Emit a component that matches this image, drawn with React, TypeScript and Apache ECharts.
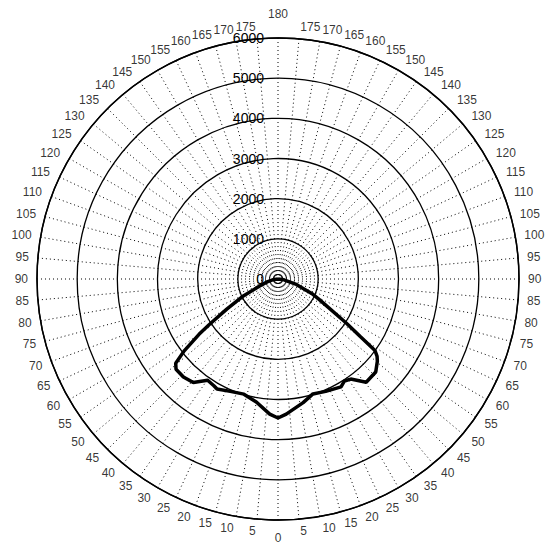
import React, { useEffect, useRef } from "react";
import * as echarts from "echarts";

// Radial ticks (intensity rings)
const radiusTicks = [0, 1000, 2000, 3000, 4000, 5000, 6000];
// Angle axis: -180..180 deg, 0 at bottom, labels shown as absolute values
const angleMin = -180;
const angleMax = 180;
const angleStep = 5;

// Curve: angle (deg) and radius values
const curveAngles = [
  -90, -82, -73.6, -66.3, -63.4, -57.2, -55, -53.6, -52, -50.4, -46.4, -40.5, -36, -33.1, -30.3, -23,
  -16.9, -11.5, -3.5, 0, 3.5, 10, 16.5, 23, 29, 31, 34.8, 39.3, 44, 48.5, 50.5, 52.5, 55, 56.5, 59.5,
  64, 69, 75, 82, 90,
];
const curveRadii = [
  0, 150, 475, 950, 1160, 2020, 2500, 3000, 3130, 3210, 3360, 3380, 3080, 3030, 3110, 3040,
  2990, 3140, 3370, 3460, 3370, 3110, 2990, 3040, 3130, 3100, 3070, 3330, 3390, 3390, 3300, 2950, 2400, 2050, 1480,
  960, 500, 280, 120, 0,
];

const FONT = "Liberation Sans, Arial, sans-serif";
const CX = 278;
const CY = 279;
const RING_R = 241;
const DIGIT_W = 6.67;

export default function App() {
  const ref = useRef<HTMLDivElement>(null);
  useEffect(() => {
    if (!ref.current) return;
    const chart = echarts.init(ref.current, undefined, { renderer: "svg" });
    const data = curveAngles.map((a, i) => [curveRadii[i], a]);
    const rMax = radiusTicks[radiusTicks.length - 1];

    // angle tick labels, placed at the outer ring and nudged outward
    const labelItems: any[] = [];
    for (let v = angleMin + angleStep; v <= angleMax; v += angleStep) {
      const th = Math.abs(v);
      const rad = (th * Math.PI) / 180;
      const side = v > 0 && v < 180 ? -1 : v < 0 ? 1 : 0;
      const s = Math.sin(rad);
      const c = Math.cos(rad);
      const text = String(th);
      const w = text.length * DIGIT_W;
      const rh = 250 + 6 * c * c;
      const rv = th === 0 ? 259 : th === 180 ? 265 : 253;
      const tx = side === 0 ? CX : CX + side * (rh * s + w / 2);
      const ty = CY + rv * c;
      const px = CX + side * RING_R * s;
      const py = CY + RING_R * c;
      labelItems.push({
        value: [rMax, v],
        label: { offset: [tx - px, ty - py] },
        name: text,
      });
    }

    chart.setOption({
      animation: false,
      backgroundColor: "#ffffff",
      polar: { center: [CX, CY], radius: RING_R },
      angleAxis: {
        type: "value",
        min: angleMin,
        max: angleMax,
        interval: angleStep,
        startAngle: 90,
        clockwise: true,
        axisLine: { show: true, lineStyle: { color: "#000", width: 1.5 } },
        axisTick: { show: false },
        splitLine: { show: true, lineStyle: { color: "#000", width: 1, type: [1, 3] } },
        axisLabel: { show: false },
      },
      radiusAxis: {
        type: "value",
        min: radiusTicks[0],
        max: rMax,
        interval: 1000,
        axisLine: { show: false },
        axisTick: { show: false },
        splitLine: { show: true, lineStyle: { color: "#000", width: 1.3 } },
        axisLabel: {
          show: true,
          showMinLabel: true,
          showMaxLabel: true,
          margin: 14,
          color: "#000",
          fontSize: 14,
          fontFamily: FONT,
          formatter: (v: number) => String(v),
        },
      },
      series: [
        {
          type: "line",
          coordinateSystem: "polar",
          data,
          showSymbol: false,
          symbol: "none",
          lineStyle: { color: "#000", width: 3.5 },
          z: 10,
        },
        {
          type: "scatter",
          coordinateSystem: "polar",
          clip: false,
          silent: true,
          symbolSize: 1,
          itemStyle: { color: "rgba(0,0,0,0)" },
          data: labelItems,
          label: {
            show: true,
            position: "inside",
            color: "#000",
            fontSize: 12,
            fontFamily: FONT,
            formatter: (p: any) => p.name,
          },
          z: 5,
        },
      ],
    });
    return () => chart.dispose();
  }, []);
  return (
    <div
      ref={ref}
      style={{ position: "fixed", left: 0, top: 0, width: 545, height: 546 }}
    />
  );
}
